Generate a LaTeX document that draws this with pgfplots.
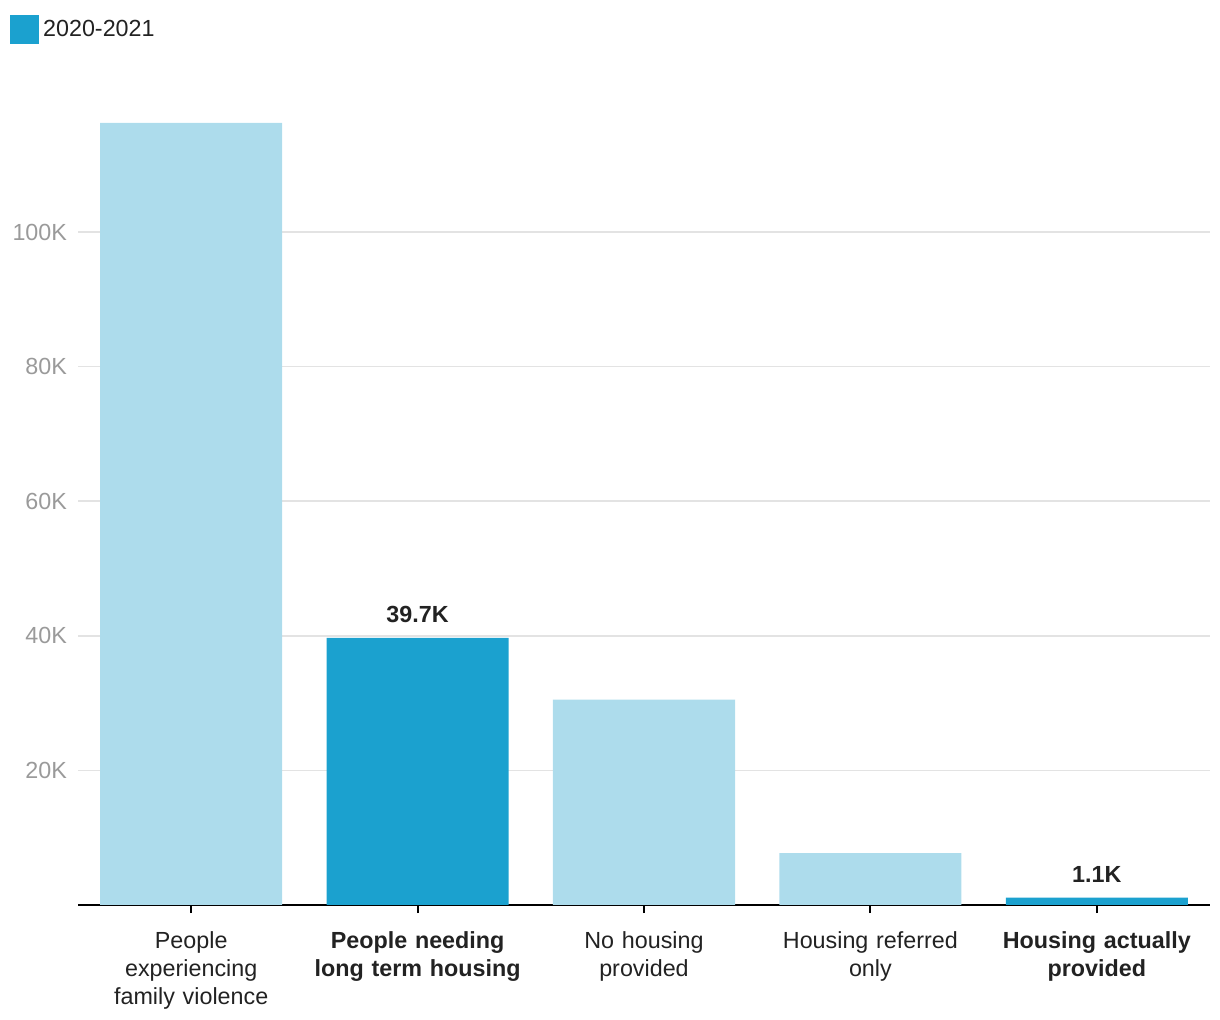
\documentclass[border=0pt]{standalone}
\usepackage{fontspec}
\setmainfont{Liberation Sans}
\usepackage{pgfplots}
\pgfplotsset{compat=1.18}
\definecolor{lightbar}{HTML}{ADDCEC}
\definecolor{darkbar}{HTML}{1BA1CF}
\definecolor{txt}{HTML}{222222}
\definecolor{ticktxt}{HTML}{9A9A9A}
\definecolor{gridc}{HTML}{E3E3E3}
\newcommand{\myfont}{\fontsize{11.7}{14}\selectfont}
\begin{document}
\begin{tikzpicture}
\begin{axis}[
  scale only axis,
  width=566bp, height=403.8bp,
  xmin=-0.5, xmax=4.5, ymin=0, ymax=120000,
  enlargelimits=false,
  scaled y ticks=false,
  axis x line*=bottom,
  axis y line*=left,
  y axis line style={draw=none},
  x axis line style={line width=1bp, black},
  ybar, bar width=91bp,
  xtick={0,1,2,3,4},
  xticklabels={
    {People\\experiencing\\family violence},
    {\textbf{People needing}\\\textbf{long term housing}},
    {No housing\\provided},
    {Housing referred\\only},
    {\textbf{Housing actually}\\\textbf{provided}}},
  xtick align=outside,
  major tick length=4bp,
  xtick style={line width=1bp, black},
  xticklabel style={font=\myfont, text=txt, text width=110bp, align=center, anchor=north, inner sep=0pt, yshift=-9bp},
  ytick={20000,40000,60000,80000,100000},
  yticklabels={20K,40K,60K,80K,100K},
  ytick style={draw=none},
  yticklabel style={font=\myfont, text=ticktxt, xshift=-2bp},
  ymajorgrids,
  major grid style={gridc, line width=0.8bp},
  legend style={at={(rel axis cs:-0.0601,1.084)}, anchor=west, draw=none, fill=none, inner sep=0pt, font=\myfont, text=txt},
  legend cell align=left,
]
\addplot[fill=lightbar, draw=none, bar shift=0pt, forget plot] coordinates {(0,116200) (2,30500) (3,7700)};
\addplot[fill=darkbar, draw=none, bar shift=0pt, forget plot,
  nodes near coords, point meta=explicit symbolic,
  every node near coord/.append style={font=\myfont\bfseries, text=txt, yshift=4bp}]
  coordinates {(1,39700) [39.7K] (4,1100) [1.1K]};
\addlegendimage{legend image code/.code={\fill[darkbar] (0bp,-7bp) rectangle (14bp,7bp);}}
\addlegendentry{2020-2021}
\end{axis}
\pgfresetboundingbox
\path[use as bounding box] (-39bp,-57.5bp) rectangle (571bp,452.5bp);
\end{tikzpicture}
\end{document}
